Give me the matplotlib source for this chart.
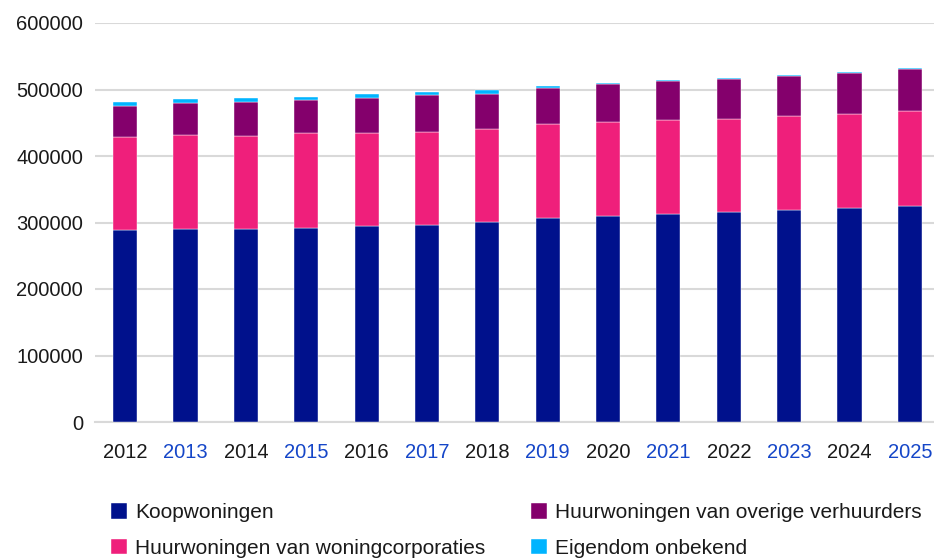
import matplotlib.pyplot as plt
import numpy as np

plt.rcParams['font.family'] = ['Liberation Sans', 'DejaVu Sans']

# --- data ---
years = [str(y) for y in range(2012, 2026)]
koop = [288700, 290200, 290700, 292200, 294300, 295800, 300800,
        307200, 310200, 312300, 315800, 318300, 321800, 325300]
corporaties = [139900, 140900, 138900, 142400, 139800, 139800, 139800,
               140900, 140500, 141400, 139800, 141400, 140900, 142400]
overige = [47000, 49000, 52100, 50100, 53100, 55700, 53100,
           54600, 57600, 59500, 60600, 61100, 62600, 62700]
onbekend = [5600, 5200, 5100, 4000, 6000, 4900, 5500,
            2100, 1000, 1100, 1500, 1500, 1000, 1900]

labels = ["Koopwoningen", "Huurwoningen van woningcorporaties",
          "Huurwoningen van overige verhuurders", "Eigendom onbekend"]
colors = ["#00118C", "#EF1F7B", "#84006C", "#00B4FF"]

fig = plt.figure(figsize=(9.34, 5.58), dpi=100)
ax = fig.add_axes([95 / 934, 1 - 422 / 558, 845 / 934, 399 / 558])

x = np.arange(len(years))
bottom = np.zeros(len(years))
handles = []
for vals, lab, col in zip([koop, corporaties, overige, onbekend], labels, colors):
    b = ax.bar(x, vals, width=0.4, bottom=bottom, color=col, label=lab,
               edgecolor="white", linewidth=0.3, zorder=3)
    handles.append(b)
    bottom += np.array(vals)

ax.set_xlim(-0.5, len(years) - 0.5)
ax.set_ylim(0, 600000)
ax.set_yticks(range(0, 600001, 100000))
ax.set_yticklabels([str(v) for v in range(0, 600001, 100000)])
ax.set_xticks(x)
ax.set_xticklabels(years)

ax.grid(axis="y", color="#d9d9d9", linewidth=1.5, zorder=0)
for s in ["top", "right", "left"]:
    ax.spines[s].set_visible(False)
ax.spines["bottom"].set_color("#d9d9d9")
ax.spines["bottom"].set_linewidth(1.5)
ax.tick_params(axis="both", length=0, labelsize=14.5, colors="#1a1a1a")
ax.tick_params(axis="y", pad=8.5)
ax.tick_params(axis="x", pad=15)
for i, t in enumerate(ax.get_xticklabels()):
    t.set_color("#1a1a1a" if i % 2 == 0 else "#1546C8")

# legend: two columns placed at fixed x positions
leg_kw = dict(loc="center left", frameon=False, fontsize=15,
              handlelength=0.75, handleheight=0.75, handletextpad=0.4,
              labelspacing=0.8, borderpad=0, borderaxespad=0,
              labelcolor="#1a1a1a")
fig.legend(handles=handles[:2], labels=labels[:2],
           bbox_to_anchor=(111 / 934, 1 - 530.5 / 558), **leg_kw)
fig.legend(handles=handles[2:], labels=labels[2:],
           bbox_to_anchor=(531 / 934, 1 - 530.5 / 558), **leg_kw)

plt.savefig("out.png", dpi=100)
